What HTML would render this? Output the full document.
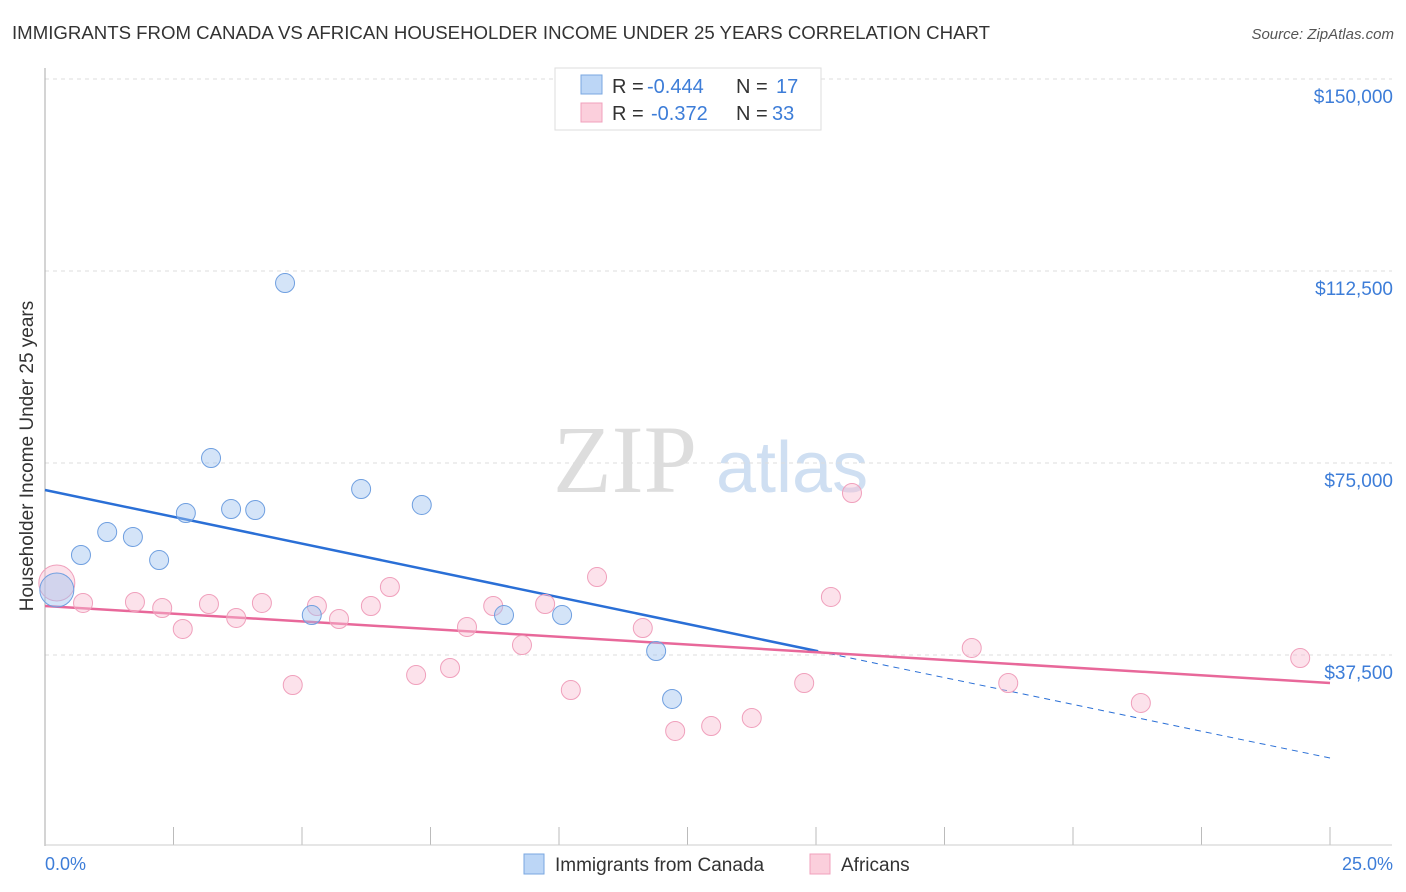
<!DOCTYPE html>
<html><head><meta charset="utf-8"><style>
body{margin:0;background:#fff;font-family:"Liberation Sans",sans-serif;}
svg{display:block}
</style></head><body>
<svg width="1406" height="892" id="c">
<text x="12" y="39" font-size="18" fill="#333" textLength="978" lengthAdjust="spacingAndGlyphs">IMMIGRANTS FROM CANADA VS AFRICAN HOUSEHOLDER INCOME UNDER 25 YEARS CORRELATION CHART</text>
<text x="1394" y="39" font-size="15" fill="#555" font-style="italic" text-anchor="end">Source: ZipAtlas.com</text>
<g>
<text x="553" y="492" font-size="96" font-family="Liberation Serif,serif" fill="#ddd">ZIP</text>
<text x="716" y="492" font-size="72" fill="#cfdff2">atlas</text>
</g>
<g id="grid"></g>
<line x1="45" y1="68" x2="45" y2="846" stroke="#aaa"/>
<line x1="45" y1="845" x2="1392" y2="845" stroke="#ccc"/>
<text x="33" y="456" font-size="19" fill="#333" text-anchor="middle" transform="rotate(-90 33 456)">Householder Income Under 25 years</text>
<text x="45" y="870" font-size="18" fill="#3d7dd8">0.0%</text>
<text x="1393" y="870" font-size="18" fill="#3d7dd8" text-anchor="end">25.0%</text>
<g id="lines"></g>
<g id="pts"></g>
<g>
<rect x="555" y="68" width="266" height="62" fill="#fff" stroke="#ddd"/>
<rect x="581" y="75" width="21" height="19" fill="#bcd6f6" stroke="#7aa7e0"/>
<rect x="581" y="103" width="21" height="19" fill="#fbcfdc" stroke="#f0a0bc"/>
<text x="612" y="93" font-size="20" fill="#333">R = <tspan x="647" fill="#3d7dd8">-0.444</tspan><tspan x="736">N = </tspan><tspan x="776" fill="#3d7dd8">17</tspan></text>
<text x="612" y="120" font-size="20" fill="#333">R = <tspan x="651" fill="#3d7dd8">-0.372</tspan><tspan x="736">N = </tspan><tspan x="772" fill="#3d7dd8">33</tspan></text>
</g>
<g>
<rect x="524" y="854" width="20" height="20" fill="#bcd6f6" stroke="#7aa7e0"/>
<text x="555" y="871" font-size="19" fill="#333">Immigrants from Canada</text>
<rect x="810" y="854" width="20" height="20" fill="#fbcfdc" stroke="#f0a0bc"/>
<text x="841" y="871" font-size="19" fill="#333">Africans</text>
</g>
</svg>
<script>
const yTicks=[150000,112500,75000,37500];
const yTickLabels=["$150,000","$112,500","$75,000","$37,500"];
const xTicks=[0,2.5,5,7.5,10,12.5,15,17.5,20,22.5,25];
const canadaX=[0.23,0.70,1.21,1.71,2.22,2.74,3.23,3.62,4.09,4.67,5.19,6.15,7.33,8.93,10.06,11.89,12.20];
const canadaY=[50200,57030,61520,60550,56050,65230,75970,66010,65820,110150,45310,69920,66800,45310,45310,38280,28910];
const africaX=[0.23,0.74,1.75,2.28,2.68,3.19,3.72,4.22,4.82,5.29,5.72,6.34,6.71,7.22,7.88,8.21,8.72,9.28,9.73,10.23,10.74,11.63,12.26,12.96,13.75,14.77,15.29,15.70,18.03,18.74,21.32,24.42];
const africaY=[51560,47660,47850,46680,42580,47460,44730,47660,31640,47070,44530,47070,50780,33590,34960,42970,47070,39450,47460,30660,52730,42770,22660,23630,25200,32030,48830,69140,38870,32030,28130,36910];
const canadaTrend=[69720,17380];
const canadaSolidEnd=15.04;
const africaTrend=[47070,32030];
const NS="http://www.w3.org/2000/svg";
const X=v=>45+v/25*1285;
const Y=v=>655-(v-37500)/37500*192;
function mk(t,a,p){const e=document.createElementNS(NS,t);for(const k in a)e.setAttribute(k,a[k]);p.appendChild(e);return e;}
const g=document.getElementById('grid');
yTicks.forEach((v,i)=>{
 const l=mk('line',{x1:45,x2:1392,y1:Y(v),y2:Y(v),stroke:'#ddd','stroke-dasharray':'4,4'},g);
 
 
 const t=mk('text',{x:1393,y:Y(v)+24,'font-size':19,fill:'#3d7dd8','text-anchor':'end'},g);
 t.textContent=yTickLabels[i];
 
 
});
xTicks.forEach(v=>{
 const l=mk('line',{x1:X(v),x2:X(v),y1:827,y2:845,stroke:'#bbb'},g);
 
 
});
const L=document.getElementById('lines');
const interp=(a,x)=>a[0]+(a[1]-a[0])*x/25;
let b=mk('line',{x1:X(0),y1:Y(canadaTrend[0]),x2:X(canadaSolidEnd),y2:Y(interp(canadaTrend,canadaSolidEnd)),stroke:'#2a6fd6','stroke-width':2.5},L);


let bd=mk('line',{x1:X(canadaSolidEnd),y1:Y(interp(canadaTrend,canadaSolidEnd)),x2:X(25),y2:Y(canadaTrend[1]),stroke:'#2a6fd6','stroke-width':1,'stroke-dasharray':'6,5'},L);


let p=mk('line',{x1:X(0),y1:Y(africaTrend[0]),x2:X(25),y2:Y(africaTrend[1]),stroke:'#e8689a','stroke-width':2.5},L);


const P=document.getElementById('pts');
africaX.forEach((x,i)=>{
 const c=mk('circle',{cx:X(x),cy:Y(africaY[i]),r:i==0?18:9.5,fill:'rgba(248,190,210,0.45)',stroke:'#f0a0bc','stroke-width':1},P);
 
 
});
canadaX.forEach((x,i)=>{
 const c=mk('circle',{cx:X(x),cy:Y(canadaY[i]),r:i==0?17:9.5,fill:'rgba(160,196,240,0.45)',stroke:'#6f9fe0','stroke-width':1},P);
 
 
});
</script>
</body></html>
